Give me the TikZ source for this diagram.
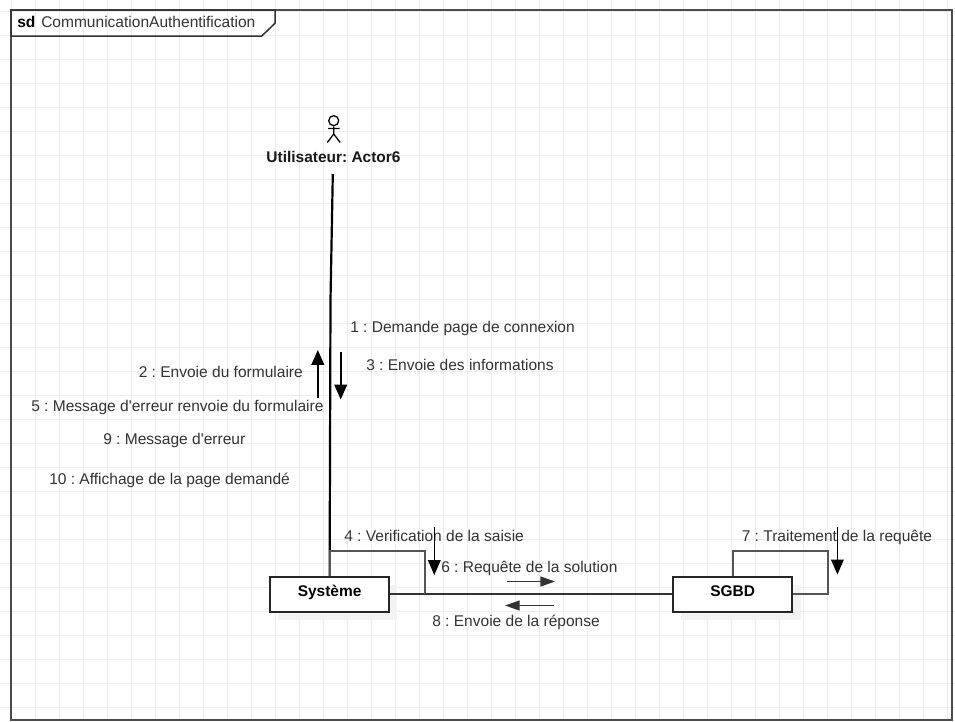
\documentclass[tikz,border=0pt]{standalone}
\usepackage{fontspec}
\setmainfont{Liberation Sans}[Ligatures=TeXOff]
\usetikzlibrary{arrows.meta,calc}
\frenchspacing
\definecolor{txt}{HTML}{333333}
\definecolor{gridc}{HTML}{EDEDED}
\definecolor{shad}{HTML}{F3F3F3}
\definecolor{loopc}{HTML}{555555}
\tikzset{
  x=0.75pt,y=-0.75pt,
  px/.style={line width=#1*0.75pt},
  msg/.style={anchor=base west,inner sep=0pt,text=txt,font=\fontsize{11.65pt}{14pt}\selectfont},
  boxn/.style={draw=black!85,px=2,fill=white,minimum width=89.5pt,minimum height=26pt,inner sep=0pt},
  boxt/.style={anchor=base,inner sep=0pt,font=\fontsize{11.6pt}{14pt}\selectfont\bfseries,text=black},
  shadown/.style={fill=shad,draw=none,minimum width=89.5pt,minimum height=26pt,inner sep=0pt},
  loopl/.style={draw=loopc,px=2},
  tip/.style={-{Triangle[length=11.2pt,width=9.5pt]}},
  tipsm/.style={-{Triangle[length=11pt,width=7.5pt]}},
}
\begin{document}
\begin{tikzpicture}
\useasboundingbox (0,0) rectangle (955,721);
\fill[white] (0,0) rectangle (955,721);
% grid
\foreach \k in {0,...,39} \draw[gridc,px=1] ({11.6+24*\k},0) -- ({11.6+24*\k},721);
\foreach \k in {0,...,29} \draw[gridc,px=1] (0,{11.3+24*\k}) -- (955,{11.3+24*\k});
% frame
\coordinate (fa) at (11,10);
\coordinate (fb) at (951.5,719.5);
\draw[draw=black!70,px=2] (fa) rectangle (fb);
\draw[draw=black!80,px=1.5] (fa) -- (275,10) -- (275,23.3) -- (261.7,36) -- (11,36) -- cycle;
\node[msg,text=black] (sdk) at (17,27) {\bfseries sd};
\node[msg] (sdn) at (41,27) {CommunicationAuthentification};
% shadows
\node[shadown] (sysS) at (337.6,602.8) {};
\node[shadown] (sgbdS) at (741,602.8) {};
% actor
\node[draw=black,circle,px=1.3,minimum size=7.5pt,inner sep=0pt] (head) at (333.7,120.7) {};
\coordinate (hip) at (333.7,134);
\coordinate (ll) at (327.3,142.5);
\coordinate (lr) at (340.2,142.5);
\coordinate (al) at (328,128.5);
\coordinate (ar) at (339.5,128.5);
\draw[black,px=1.3] (head.south) -- (hip) (ll) -- (hip) -- (lr) (al) -- (ar);
\node[boxt,text=black!90] (actor) at (333.5,162.5) {Utilisateur: Actor6};
\coordinate (lifetop) at (332.8,174);
% boxes
\node[boxn] (sys) at (329.6,594.3) {};
\node[boxn] (sgbd) at (732.7,594.3) {};
\node[boxt] (systxt) at (329.6,596) {Système};
\node[boxt] (sgbdtxt) at (732.7,596) {SGBD};
% connectors
\draw[black,px=2.2] (lifetop) -- (330.5,300) -- (sys.north);
\draw[black!80,px=2] (sys.east) -- (sgbd.west);
\draw[loopl] (sys.north) -- ++(0,-25) -| ($(sys.east)+(34.4,0)$);
\draw[loopl] (sgbd.north) -- ++(0,-25) -| ($(sgbd.east)+(34.6,0)$) -- (sgbd.east);
% labels
\node[msg] (m1) at (350,332) {1 : Demande page de connexion};
\node[msg] (m3) at (366,370) {3 : Envoie des informations};
\node[msg] (m2) at (138.5,377) {2 : Envoie du formulaire};
\node[msg] (m5) at (31,411) {5 : Message d'erreur renvoie du formulaire};
\node[msg] (m9) at (103,444) {9 : Message d'erreur};
\node[msg] (m10) at (49,484) {10 : Affichage de la page demandé};
\node[msg] (m4) at (344,541) {4 : Verification de la saisie};
\node[msg] (m6) at (441,572.5) {6 : Requête de la solution};
\node[msg] (m8) at (432,626) {8 : Envoie de la réponse};
\node[msg] (m7) at (741.5,541) {7 : Traitement de la requête};
% arrows
\coordinate (a2s) at (317.8,398); \coordinate (a2e) at (317.8,350);
\coordinate (a3s) at (340.7,352); \coordinate (a3e) at (340.7,399.5);
\coordinate (a4s) at (434.3,526.5); \coordinate (a4e) at (434.3,575);
\coordinate (a7s) at (837.4,526.5); \coordinate (a7e) at (837.4,574.5);
\coordinate (a6s) at (506.5,581.5); \coordinate (a6e) at (555,581.5);
\coordinate (a8s) at (553.5,605.5); \coordinate (a8e) at (505,605.5);
\draw[black,px=2,tip] (a2s) -- (a2e);
\draw[black,px=2,tip] (a3s) -- (a3e);
\draw[black,px=1.2,tip] (a4s) -- (a4e);
\draw[black,px=1.2,tip] (a7s) -- (a7e);
\draw[black!80,px=1.5,tipsm] (a6s) -- (a6e);
\draw[black!80,px=1.5,tipsm] (a8s) -- (a8e);
\end{tikzpicture}
\end{document}
